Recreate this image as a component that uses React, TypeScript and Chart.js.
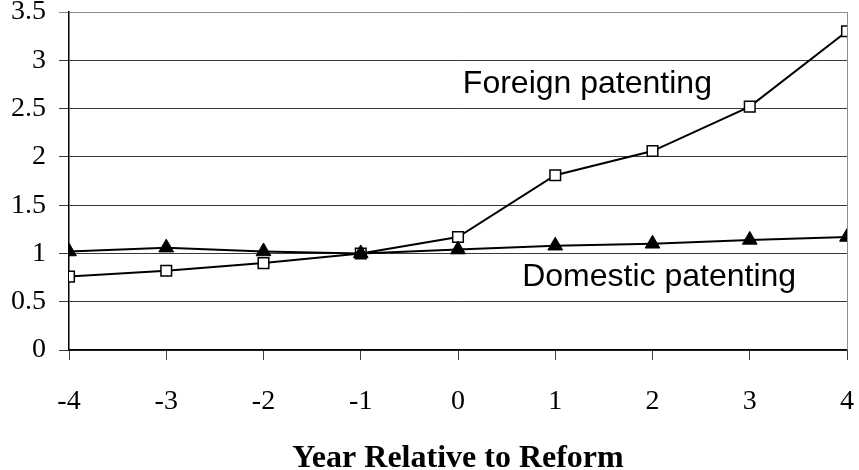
import React, { useEffect, useRef } from "react";
import { Chart, registerables } from "chart.js";

Chart.register(...registerables);

const years = [-4, -3, -2, -1, 0, 1, 2, 3, 4];
const foreignValues = [0.76, 0.82, 0.9, 1.0, 1.17, 1.81, 2.06, 2.52, 3.3];
const domesticValues = [1.02, 1.06, 1.02, 1.0, 1.04, 1.08, 1.1, 1.14, 1.17];
const foreignLabel = "Foreign patenting";
const domesticLabel = "Domestic patenting";
const xTitle = "Year Relative to Reform";
const foreignLabelPos = { x: 0.05, y: 2.66 };
const domesticLabelPos = { x: 0.66, y: 0.66 };

const SERIF = "'Liberation Serif', 'Times New Roman', serif";
const SANS = "'Liberation Sans', Arial, sans-serif";

export default function App() {
  const ref = useRef<HTMLCanvasElement>(null);
  useEffect(() => {
    document.body.style.margin = "0";
    const canvas = ref.current!;
    const annot = {
      id: "annot",
      afterDraw(chart: any) {
        const ctx = chart.ctx;
        const xs = chart.scales.x;
        const ys = chart.scales.y;
        const ca = chart.chartArea;
        ctx.save();
        ctx.strokeStyle = "#8c8c8c";
        ctx.lineWidth = 1;
        ctx.beginPath();
        ctx.moveTo(Math.round(ca.right) + 0.5, ca.top);
        ctx.lineTo(Math.round(ca.right) + 0.5, ca.bottom);
        ctx.stroke();
        ctx.fillStyle = "#000";
        ctx.font = `32px ${SANS}`;
        ctx.textAlign = "left";
        ctx.textBaseline = "alphabetic";
        ctx.fillText(foreignLabel, xs.getPixelForValue(foreignLabelPos.x), ys.getPixelForValue(foreignLabelPos.y));
        ctx.fillText(domesticLabel, xs.getPixelForValue(domesticLabelPos.x), ys.getPixelForValue(domesticLabelPos.y));
        ctx.font = `bold 32px ${SERIF}`;
        ctx.textAlign = "center";
        ctx.fillText(xTitle, (ca.left + ca.right) / 2, ca.bottom + 117);
        ctx.restore();
      },
    };
    const chart = new Chart(canvas, {
      type: "line",
      data: {
        datasets: [
          {
            label: domesticLabel,
            data: years.map((x, i) => ({ x, y: domesticValues[i] })),
            borderColor: "#000",
            borderWidth: 2,
            backgroundColor: "#000",
            pointStyle: "triangle",
            pointRadius: 8.5,
            pointBorderWidth: 1,
            pointBorderColor: "#000",
            pointBackgroundColor: "#000",
            order: 0,
          },
          {
            label: foreignLabel,
            data: years.map((x, i) => ({ x, y: foreignValues[i] })),
            borderColor: "#000",
            borderWidth: 2,
            pointStyle: "rect",
            pointRadius: 7.5,
            pointBorderWidth: 1.5,
            pointBorderColor: "#000",
            pointBackgroundColor: "#fff",
            order: 1,
          },
        ],
      },
      options: {
        responsive: false,
        animation: false,
        layout: { padding: { top: 12, right: 12, left: 0, bottom: 0 } },
        plugins: { legend: { display: false }, tooltip: { enabled: false } },
        scales: {
          x: {
            type: "linear",
            min: -4,
            max: 4,
            afterFit(scale: any) {
              scale.height = 120;
              scale.paddingLeft = 0;
              scale.paddingRight = 0;
            },
            ticks: {
              stepSize: 1,
              color: "#000",
              font: { family: SERIF, size: 28 },
              padding: 25,
              maxRotation: 0,
            },
            grid: {
              drawOnChartArea: false,
              drawTicks: true,
              tickLength: 10,
              color: "#404040",
            },
            border: { color: "#000", width: 1.5 },
          },
          y: {
            min: 0,
            max: 3.5,
            afterFit(scale: any) {
              scale.width = 69;
              scale.paddingTop = 0;
              scale.paddingBottom = 0;
            },
            ticks: {
              stepSize: 0.5,
              color: "#000",
              font: { family: SERIF, size: 28 },
              padding: 13,
              callback: (v: any) => String(v),
            },
            grid: {
              tickLength: 10,
              color: (c: any) => (c.tick && c.tick.value === 3.5 ? "#8c8c8c" : "#3a3a3a"),
              lineWidth: 1,
            },
            border: { color: "#000", width: 1.5 },
          },
        },
      },
      plugins: [annot],
    });
    return () => chart.destroy();
  }, []);
  return (
    <div style={{ width: 859, height: 470 }}>
      <canvas ref={ref} width={859} height={470} />
    </div>
  );
}
